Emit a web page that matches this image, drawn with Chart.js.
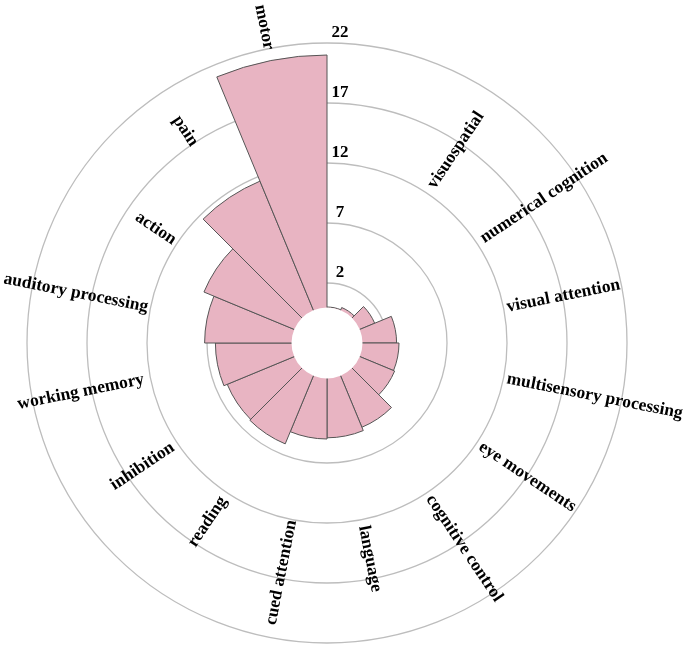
<!DOCTYPE html>
<html><head><meta charset="utf-8">
<script src="https://cdn.jsdelivr.net/npm/chart.js@4.4.0/dist/chart.umd.min.js"></script>
<style>html,body{margin:0;padding:0;background:#fff}#w{width:685px;height:649px}</style>
</head><body><div id="w"><canvas id="c"></canvas></div>
<script>
const categories = ["", "visuospatial", "numerical cognition", "visual attention", "multisensory processing", "eye movements", "cognitive control", "language", "cued attention", "reading", "inhibition", "working memory", "auditory processing", "action", "pain", "motor"];
const counts = [0, 0.2, 1.3, 2.8, 3.0, 3.1, 4.6, 4.9, 5.0, 6.1, 6.0, 6.3, 7.2, 8.1, 11.6, 21];
const tickValues = [2, 7, 12, 17, 22];
const labelRadiusPx = [0, 232, 261, 241, 273, 241, 247, 220, 234, 215, 222, 251, 256, 206, 255, 322];

const FONT = '"Liberation Serif", "DejaVu Serif", serif';

const overlay = {
  id: 'overlay',
  afterDatasetsDraw(chart) {
    const ctx = chart.ctx, s = chart.scales.r;
    const cx = s.xCenter, cy = s.yCenter;
    ctx.save();
    ctx.fillStyle = '#fff';
    ctx.beginPath(); ctx.arc(cx, cy, s.getDistanceFromCenterForValue(0) - 0.5, 0, Math.PI * 2); ctx.fill();
    ctx.fillStyle = '#000';
    ctx.font = 'bold 17px ' + FONT;
    ctx.textAlign = 'center'; ctx.textBaseline = 'bottom';
    tickValues.forEach(v => {
      const r = s.getDistanceFromCenterForValue(v);
      ctx.fillText(String(v), cx + 13, cy - r - 2);
    });
    ctx.font = 'bold 17.5px ' + FONT;
    ctx.textBaseline = 'middle';
    const n = categories.length;
    categories.forEach((lab, i) => {
      if (!lab) return;
      const a = (i + 0.5) * 360 / n;
      const rad = a * Math.PI / 180;
      const r = labelRadiusPx[i];
      const x = cx + r * Math.sin(rad), y = cy - r * Math.cos(rad);
      ctx.save();
      ctx.translate(x, y);
      const rot = a <= 180 ? a - 90 : a - 270;
      ctx.rotate(rot * Math.PI / 180);
      ctx.fillText(lab, 0, 0);
      ctx.restore();
    });
    ctx.restore();
  }
};

new Chart(document.getElementById('c'), {
  type: 'polarArea',
  data: {
    labels: categories,
    datasets: [{
      data: counts,
      backgroundColor: 'rgba(232,180,194,1)',
      borderColor: '#555',
      borderWidth: 1
    }]
  },
  options: {
    responsive: true, maintainAspectRatio: false, animation: false,
    layout: { padding: { top: 43, bottom: 6, left: 27, right: 58 } },
    plugins: { legend: { display: false }, tooltip: { enabled: false } },
    scales: {
      r: {
        min: -3, max: 22,
        afterBuildTicks(scale) { scale.ticks = [-3].concat(tickValues).map(v => ({ value: v })); },
        ticks: { display: false },
        grid: { color: (c) => c.tick && c.tick.value === -3 ? 'rgba(0,0,0,0)' : '#bdbdbd', lineWidth: 1.3 },
        angleLines: { display: false },
        pointLabels: { display: false }
      }
    }
  },
  plugins: [overlay]
});
</script></body></html>
